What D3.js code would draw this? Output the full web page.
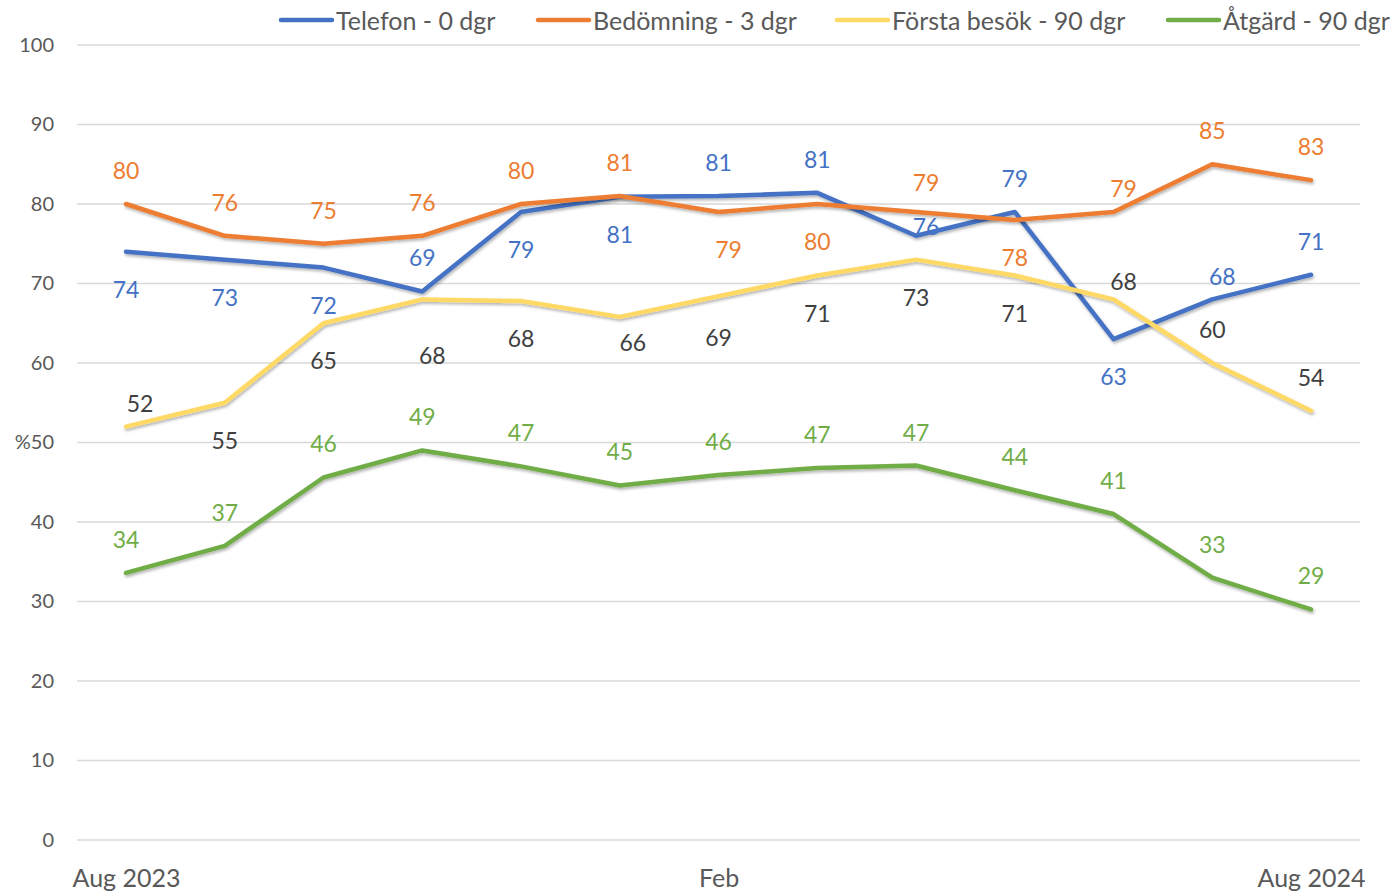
<!DOCTYPE html>
<html>
<head>
<meta charset="utf-8">
<script src="https://cdn.jsdelivr.net/npm/d3@7"></script>
<style>
  body { margin: 0; background: #fff; }
  text { font-family: Lato, "Open Sans", sans-serif; }
</style>
</head>
<body>
<div id="chart"></div>
<script>
var svgWidth = 1396;
var svgHeight = 892;

// Data
var months = ["Aug 2023", "Sep", "Okt", "Nov", "Dec", "Jan", "Feb", "Mar", "Apr", "Maj", "Jun", "Jul", "Aug 2024"];
var tickLabels = {0: "Aug 2023", 6: "Feb", 12: "Aug 2024"};
var yTicks = [0, 10, 20, 30, 40, 50, 60, 70, 80, 90, 100];

var telefon    = [74, 73, 72, 69, 79, 80.9, 81, 81.4, 76, 79, 63, 68, 71.1];
var bedomning  = [80, 76, 75, 76, 80, 81, 79, 80, 79, 78, 79, 85, 83];
var forstaBesok = [52, 55, 65, 68, 67.8, 65.8, 68.4, 71, 73, 71, 68, 60, 54];
var atgard     = [33.6, 37, 45.6, 49, 47, 44.6, 45.9, 46.8, 47.1, 44, 41, 33, 29];

var telefonLabels    = [74, 73, 72, 69, 79, 81, 81, 81, 76, 79, 63, 68, 71];
var bedomningLabels  = [80, 76, 75, 76, 80, 81, 79, 80, 79, 78, 79, 85, 83];
var forstaLabels     = [52, 55, 65, 68, 68, 66, 69, 71, 73, 71, 68, 60, 54];
var atgardLabels     = [34, 37, 46, 49, 47, 45, 46, 47, 47, 44, 41, 33, 29];

// label placement (pixel offsets from the point)
var A = -34, B = 37;
var telefonPos = [[0,B],[0,B],[0,B],[0,A],[0,B],[0,B],[0,A],[0,A],[10,-10],[0,A],[0,B],[10,-23],[0,A]];
var bedomningPos = [[0,A],[0,A],[0,A],[0,A],[0,A],[0,A],[10,B],[0,B],[10,-30],[0,B],[10,-24],[0,A],[0,A]];
var forstaPos = [[14,-24],[0,B],[0,B],[10,56],[0,B],[13,25],[0,41],[0,B],[0,B],[0,B],[10,-18],[0,A],[0,A]];
var atgardPos = [[0,A],[0,A],[0,A],[0,A],[0,A],[0,A],[0,A],[0,A],[0,A],[0,A],[0,A],[0,A],[0,A]];

var series = [
  {name: "Telefon - 0 dgr", values: telefon, labels: telefonLabels, pos: telefonPos, color: "#4472C4", labelColor: "#4472C4", legendX: 279},
  {name: "Bedömning - 3 dgr", values: bedomning, labels: bedomningLabels, pos: bedomningPos, color: "#ED7D31", labelColor: "#ED7D31", legendX: 536},
  {name: "Första besök - 90 dgr", values: forstaBesok, labels: forstaLabels, pos: forstaPos, color: "#FFD966", labelColor: "#404040", legendX: 835},
  {name: "Åtgärd - 90 dgr", values: atgard, labels: atgardLabels, pos: atgardPos, color: "#70AD47", labelColor: "#70AD47", legendX: 1166}
];

var svg = d3.select("#chart").append("svg")
  .attr("width", svgWidth)
  .attr("height", svgHeight);

// shadow filter
var defs = svg.append("defs");
var filter = defs.append("filter").attr("id", "shadow")
  .attr("x", "-5%").attr("y", "-5%").attr("width", "110%").attr("height", "120%");
filter.append("feDropShadow")
  .attr("dx", 1).attr("dy", 2).attr("stdDeviation", 1.5)
  .attr("flood-color", "#000").attr("flood-opacity", 0.3);

// Scales
var xScale = d3.scalePoint()
  .domain(d3.range(months.length))
  .range([126, 1311]);

var yScale = d3.scaleLinear()
  .domain([0, 100])
  .range([840, 45]);

// Gridlines
svg.append("g")
  .selectAll("line")
  .data(yTicks)
  .enter()
  .append("line")
  .attr("x1", 77)
  .attr("x2", 1360)
  .attr("y1", d => yScale(d))
  .attr("y2", d => yScale(d))
  .attr("stroke", "#d9d9d9")
  .attr("stroke-width", 1.5);

// Y axis
var leftAxis = d3.axisLeft(yScale)
  .tickValues(yTicks)
  .tickSize(0)
  .tickPadding(0)
  .tickFormat(d => d === 50 ? "%50" : d);

svg.append("g")
  .attr("transform", "translate(54,0)")
  .call(leftAxis)
  .call(g => g.select(".domain").remove())
  .call(g => g.selectAll("text")
    .attr("fill", "#595959")
    .style("font-size", "20px")
    .style("font-family", "Lato, sans-serif"));

// X axis
var bottomAxis = d3.axisBottom(xScale)
  .tickValues([0, 6, 12])
  .tickSize(0)
  .tickPadding(0)
  .tickFormat(d => tickLabels[d]);

svg.append("g")
  .attr("transform", "translate(0,869)")
  .call(bottomAxis)
  .call(g => g.select(".domain").remove())
  .call(g => g.selectAll("text")
    .attr("fill", "#595959")
    .style("font-size", "25px")
    .style("font-family", "Lato, sans-serif"));

// Lines
var line = d3.line()
  .x((d, i) => xScale(i))
  .y(d => yScale(d));

svg.append("g")
  .selectAll("path")
  .data(series)
  .enter()
  .append("path")
  .attr("d", d => line(d.values))
  .attr("fill", "none")
  .attr("stroke", d => d.color)
  .attr("stroke-width", 4.5)
  .attr("stroke-linejoin", "round")
  .attr("stroke-linecap", "round")
  .attr("filter", "url(#shadow)");

// Data labels
series.forEach(function (s) {
  svg.append("g")
    .selectAll("text")
    .data(s.values)
    .enter()
    .append("text")
    .attr("x", (d, i) => xScale(i) + s.pos[i][0])
    .attr("y", (d, i) => yScale(d) + s.pos[i][1])
    .attr("text-anchor", "middle")
    .attr("dominant-baseline", "central")
    .attr("fill", s.labelColor)
    .style("font-size", "23px")
    .text((d, i) => s.labels[i]);
});

// Legend
var legend = svg.append("g")
  .selectAll("g")
  .data(series)
  .enter()
  .append("g")
  .attr("transform", d => `translate(${d.legendX}, 20)`);

legend.append("line")
  .attr("x1", 2)
  .attr("x2", 53)
  .attr("stroke", d => d.color)
  .attr("stroke-width", 4.5)
  .attr("stroke-linecap", "round");

legend.append("text")
  .attr("x", 57)
  .attr("dominant-baseline", "central")
  .attr("fill", "#595959")
  .style("font-size", "25px")
  .text(d => d.name);
</script>
</body>
</html>
